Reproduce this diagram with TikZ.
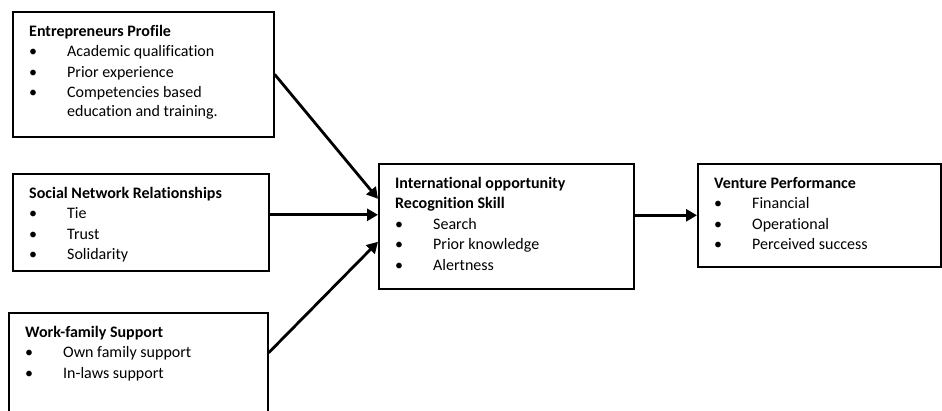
\documentclass[tikz,border=0pt]{standalone}
\usepackage{fontspec}
\setmainfont[Ligatures=NoCommon]{Carlito}
\usepackage{tikz}
\usetikzlibrary{positioning,arrows.meta}
\newcommand{\bul}{\textbullet}

\begin{document}
\begin{tikzpicture}
[
x=1pt, y=1pt,
box-a/.style={rectangle, draw, line width=1.6pt, anchor=north west, inner sep=0pt},
text-a/.style={black, inner sep=0pt, font=\fontsize{16}{20.5}\selectfont},
arrow-a/.style={line width=2.8pt, -{Triangle[length=11pt, width=12pt]}}
]
\useasboundingbox (0,0) rectangle (942,410);
\clip (0,0) rectangle (942,410);
% boxes
\node (box-profile) [box-a, minimum width=261pt, minimum height=125pt] at (12,399)  {};
\node (box-social)  [box-a, minimum width=256pt, minimum height=97pt ] at (12,237)  {};
\node (box-family)  [box-a, minimum width=259pt, minimum height=110pt] at (8,98)    {};
\node (box-skill)   [box-a, minimum width=255pt, minimum height=125pt] at (378,247) {};
\node (box-venture) [box-a, minimum width=243pt, minimum height=103pt] at (697,247) {};
% texts
\node (text-profile) [text-a, below right = 10.5pt and 17pt of box-profile.north west]
  {\begin{tabular}{@{}p{38pt}@{}l@{}}
   \multicolumn{2}{@{}l@{}}{\bfseries Entrepreneurs Profile}\\
   \bul & Academic qualification\\
   \bul & Prior experience\\
   \bul & Competencies based\\[-2pt]
        & education and training.
   \end{tabular}};
\node (text-social)  [text-a, below right = 10.5pt and 17pt of box-social.north west]
  {\begin{tabular}{@{}p{38pt}@{}l@{}}
   \multicolumn{2}{@{}l@{}}{\bfseries Social Network Relationships}\\
   \bul & Tie\\
   \bul & Trust\\
   \bul & Solidarity
   \end{tabular}};
\node (text-family)  [text-a, below right = 10.5pt and 17pt of box-family.north west]
  {\begin{tabular}{@{}p{38pt}@{}l@{}}
   \multicolumn{2}{@{}l@{}}{\bfseries Work-family Support}\\
   \bul & Own family support\\
   \bul & In-laws support
   \end{tabular}};
\node (text-skill)   [text-a, below right = 10.5pt and 17pt of box-skill.north west]
  {\begin{tabular}{@{}p{38pt}@{}l@{}}
   \multicolumn{2}{@{}l@{}}{\bfseries International opportunity}\\
   \multicolumn{2}{@{}l@{}}{\bfseries Recognition Skill}\\
   \bul & Search\\
   \bul & Prior knowledge\\
   \bul & Alertness
   \end{tabular}};
\node (text-venture) [text-a, below right = 10.5pt and 17pt of box-venture.north west]
  {\begin{tabular}{@{}p{38pt}@{}l@{}}
   \multicolumn{2}{@{}l@{}}{\bfseries Venture Performance}\\
   \bul & Financial\\
   \bul & Operational\\
   \bul & Perceived success
   \end{tabular}};
% arrows
\coordinate (in-social) at ([yshift=11.5pt]box-skill.west);
\draw[arrow-a] (box-profile.east) -- ([yshift=27.5pt]box-skill.west);
\draw[arrow-a] (box-social.east |- in-social) -- (in-social);
\draw[arrow-a] ([yshift=15pt]box-family.east) -- ([yshift=-15.5pt]box-skill.west);
\draw[arrow-a] (box-skill.east |- box-venture.west) -- (box-venture.west);
\end{tikzpicture}
\end{document}
